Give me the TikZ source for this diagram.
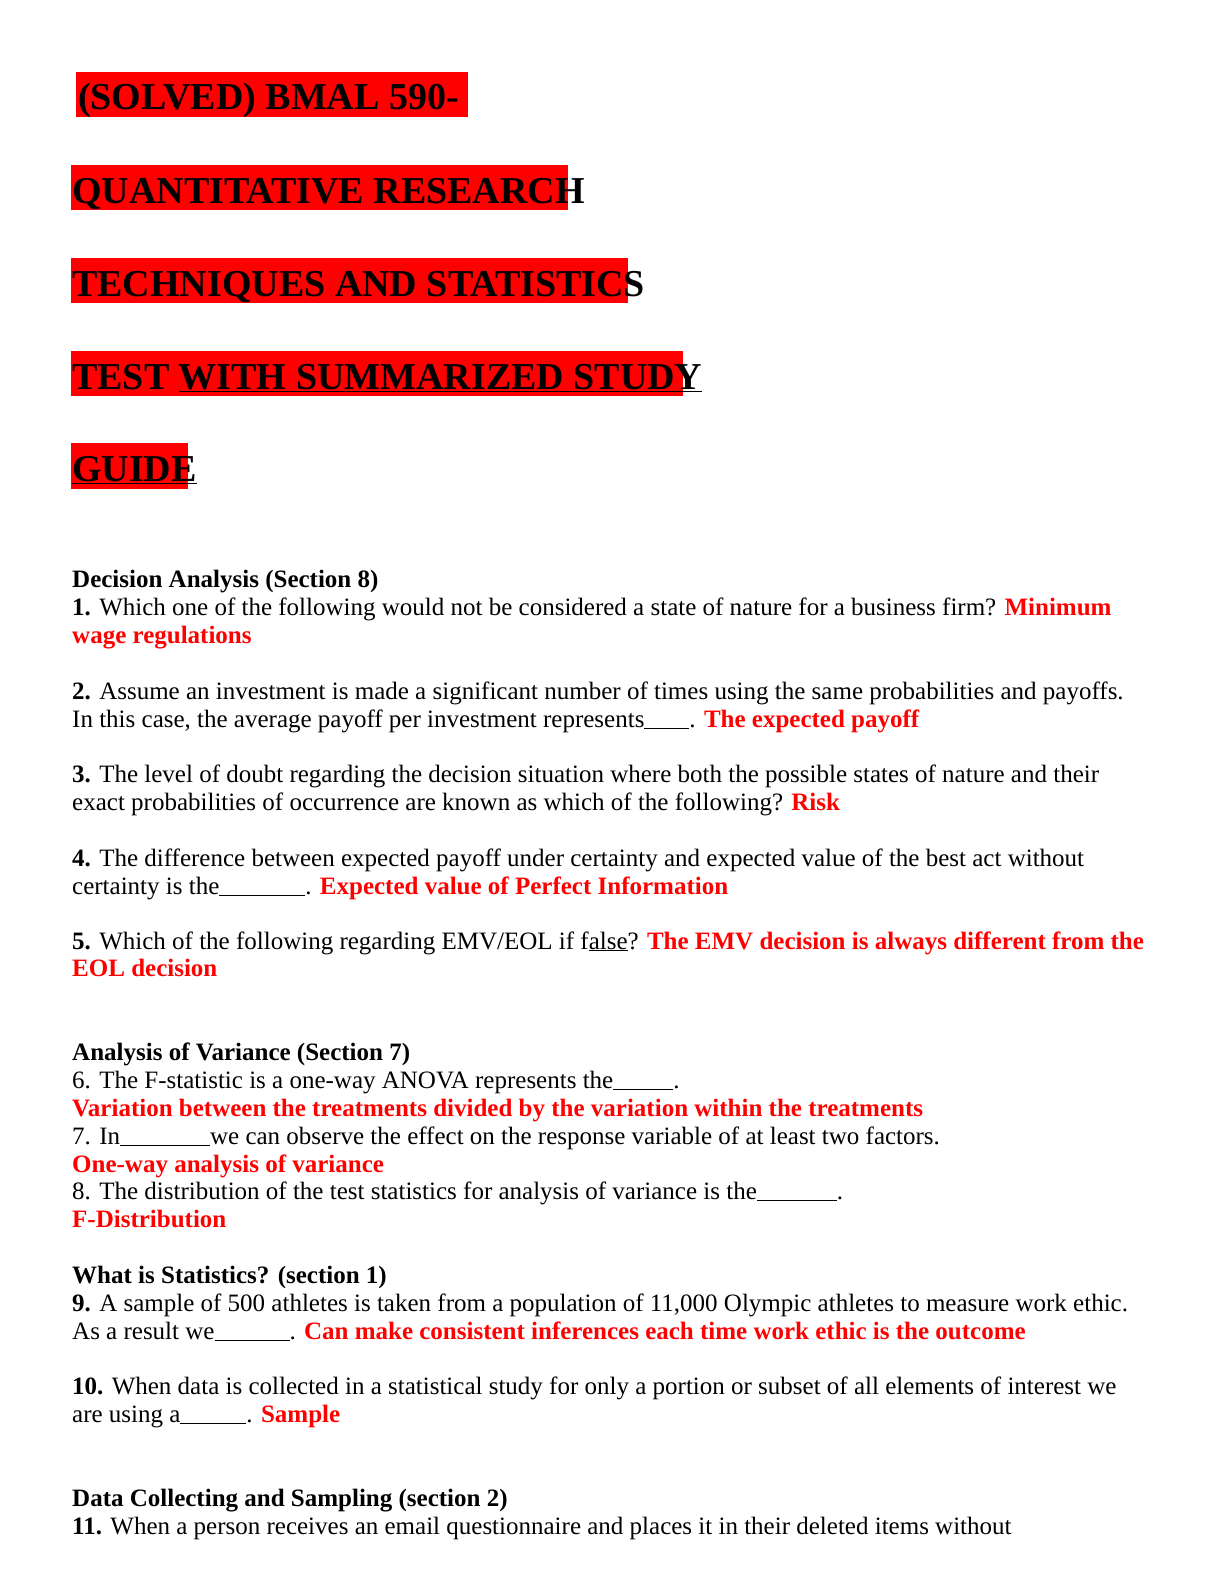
\documentclass[tikz,border=0pt]{standalone}
\usepackage{fontspec}
\setmainfont{Liberation Serif}
\definecolor{pred}{RGB}{255,0,0}
\newcommand{\blank}[1]{\rule[-2pt]{#1pt}{1pt}}
\newcommand{\ans}[1]{{\color{pred}\bfseries #1}}
\tikzset{ln/.style={anchor=base west,inner sep=0pt,font=\fontsize{25}{28}\selectfont},
 ttl/.style={anchor=base west,inner sep=0pt,font=\fontsize{38}{44}\selectfont\bfseries},
 hl/.style={fill=pred,draw=none}}
\begin{document}
\begin{tikzpicture}[x=1pt,y=-1pt]
\useasboundingbox (0,0) rectangle (1224,1584);
\fill[white] (0,0) rectangle (1224,1584);
% title highlights
\fill[hl] (76,72) rectangle (468,117);
\fill[hl] (71,165) rectangle (568,210);
\fill[hl] (71,258) rectangle (628,303);
\fill[hl] (71,351) rectangle (683,396);
\fill[hl] (71,443) rectangle (188,489);
\node[ttl] (t1) at (78,110) {(SOLVED) BMAL 590-};
\node[ttl] (t2) at (72,203) {QUANTITATIVE RESEARCH};
\node[ttl] (t3) at (72,296) {TECHNIQUES AND STATISTICS};
\node[ttl] (t4) at (72,389) {TEST \underline{WITH SUMMARIZED STUDY}};
\node[ttl] (t5) at (72,481) {\underline{GUIDE}};
% body
\node[ln] (h1) at (72,587) {\bfseries Decision Analysis (Section 8)};
\node[ln] (q1) at (72,615) {\textbf{1.} Which one of the following would not be considered a state of nature for a business firm? \ans{Minimum}};
\node[ln] (q1b) at (72,643) {\ans{wage regulations}};
\node[ln] (q2) at (72,699) {\textbf{2.} Assume an investment is made a significant number of times using the same probabilities and payoffs.};
\node[ln] (q2b) at (72,727) {In this case, the average payoff per investment represents\blank{45}. \ans{The expected payoff}};
\node[ln] (q3) at (72,782) {\textbf{3.} The level of doubt regarding the decision situation where both the possible states of nature and their};
\node[ln] (q3b) at (72,810) {exact probabilities of occurrence are known as which of the following? \ans{Risk}};
\node[ln] (q4) at (72,866) {\textbf{4.} The difference between expected payoff under certainty and expected value of the best act without};
\node[ln] (q4b) at (72,894) {certainty is the\blank{86}. \ans{Expected value of Perfect Information}};
\node[ln] (q5) at (72,949) {\textbf{5.} Which of the following regarding EMV/EOL if f\underline{alse}? \ans{The EMV decision is always different from the}};
\node[ln] (q5b) at (72,976) {\ans{EOL decision}};
\node[ln] (h2) at (72,1060) {\bfseries Analysis of Variance (Section 7)};
\node[ln] (q6) at (72,1088) {6. The F-statistic is a one-way ANOVA represents the\blank{60}.};
\node[ln] (q6b) at (72,1116) {\ans{Variation between the treatments divided by the variation within the treatments}};
\node[ln] (q7) at (72,1144) {7. In\blank{90}we can observe the effect on the response variable of at least two factors.};
\node[ln] (q7b) at (72,1172) {\ans{One-way analysis of variance}};
\node[ln] (q8) at (72,1199) {8. The distribution of the test statistics for analysis of variance is the\blank{80}.};
\node[ln] (q8b) at (72,1227) {\ans{F-Distribution}};
\node[ln] (h3) at (72,1283) {\bfseries What is Statistics? (section 1)};
\node[ln] (q9) at (72,1311) {\textbf{9.} A sample of 500 athletes is taken from a population of 11,000 Olympic athletes to measure work ethic.};
\node[ln] (q9b) at (72,1339) {As a result we\blank{75}. \ans{Can make consistent inferences each time work ethic is the outcome}};
\node[ln] (q10) at (72,1394) {\textbf{10.} When data is collected in a statistical study for only a portion or subset of all elements of interest we};
\node[ln] (q10b) at (72,1422) {are using a\blank{66}. \ans{Sample}};
\node[ln] (h4) at (72,1506) {\bfseries Data Collecting and Sampling (section 2)};
\node[ln] (q11) at (72,1534) {\textbf{11.} When a person receives an email questionnaire and places it in their deleted items without};
\end{tikzpicture}
\end{document}
